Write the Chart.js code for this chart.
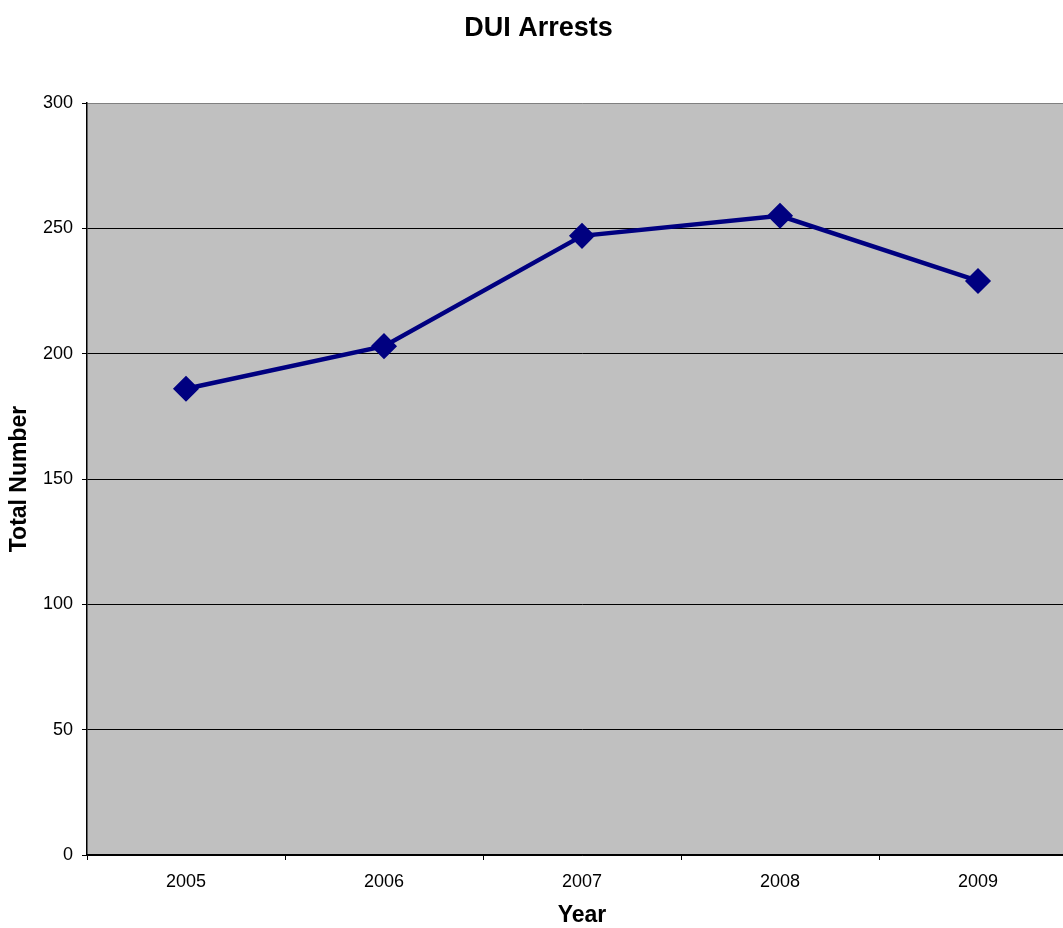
<!DOCTYPE html>
<html>
<head>
<meta charset="utf-8">
<script src="https://cdn.jsdelivr.net/npm/chart.js@4/dist/chart.umd.min.js"></script>
<style>
  html, body { margin: 0; padding: 0; overflow: hidden; background: #fff; }
  #wrap { width: 1078px; height: 928px; position: relative; }
</style>
</head>
<body>
<div id="wrap"><canvas id="c"></canvas></div>
<script>
const years = ['2005', '2006', '2007', '2008', '2009'];
const arrests = [186, 203, 247, 255, 229];
const yTicks = { min: 0, max: 300, step: 50 };

const FONT = '"Liberation Sans", Arial, Helvetica, sans-serif';

const plotBg = {
  id: 'plotBg',
  beforeDraw(chart) {
    const { ctx, chartArea: a } = chart;
    ctx.save();
    ctx.fillStyle = '#C0C0C0';
    ctx.fillRect(a.left, a.top, a.right - a.left, a.bottom - a.top);
    ctx.restore();
  }
};

new Chart(document.getElementById('c'), {
  type: 'line',
  data: {
    labels: years,
    datasets: [{
      data: arrests,
      borderColor: '#000080',
      backgroundColor: '#000080',
      borderWidth: 4.5,
      pointStyle: 'rectRot',
      pointRadius: 12,
      pointBorderWidth: 1.5,
      pointHoverRadius: 12,
      tension: 0,
      fill: false,
      clip: false
    }]
  },
  options: {
    responsive: true,
    maintainAspectRatio: false,
    animation: false,
    layout: { autoPadding: false, padding: { left: 0, right: 1, top: 0, bottom: 0 } },
    plugins: {
      legend: { display: false },
      tooltip: { enabled: false },
      title: {
        display: true,
        text: 'DUI Arrests',
        color: '#000',
        font: { family: FONT, size: 27, weight: 'bold', lineHeight: 1.2 },
        padding: { top: 12, bottom: 58.6 }
      }
    },
    scales: {
      x: {
        type: 'category',
        offset: true,
        grid: {
          display: true,
          offset: true,
          drawOnChartArea: false,
          drawTicks: true,
          tickLength: 5,
          color: '#000',
          tickColor: '#000'
        },
        border: { display: true, color: '#000', width: 1.5 },
        ticks: {
          color: '#000',
          padding: 11,
          font: { family: FONT, size: 18 },
          maxRotation: 0
        },
        title: {
          display: true,
          text: 'Year',
          color: '#000',
          font: { family: FONT, size: 23, weight: 'bold', lineHeight: 1.05 },
          padding: { top: 0, bottom: 0 }
        },
        afterFit(scale) {
          scale.height = 73;
          scale.paddingLeft = 0;
          scale.paddingRight = 0;
        }
      },
      y: {
        min: yTicks.min,
        max: yTicks.max,
        grid: {
          color: (c) => (c.tick && c.tick.value === yTicks.max) ? '#808080' : '#000',
          lineWidth: 1,
          tickColor: '#000',
          tickLength: 5,
          drawTicks: true
        },
        border: { display: true, color: '#000', width: 1.5 },
        ticks: {
          stepSize: yTicks.step,
          color: '#000',
          padding: 9,
          font: { family: FONT, size: 18 }
        },
        title: {
          display: true,
          text: 'Total Number',
          color: '#000',
          font: { family: FONT, size: 23, weight: 'bold', lineHeight: 1.2 },
          padding: { top: 6, bottom: 0 }
        },
        afterFit(scale) {
          scale.width = 87;
        }
      }
    }
  },
  plugins: [plotBg]
});
</script>
</body>
</html>
